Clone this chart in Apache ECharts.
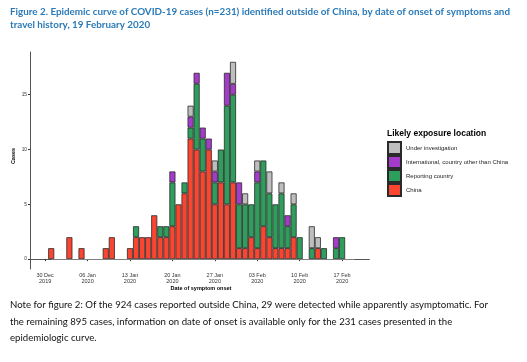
<!DOCTYPE html>
<html><head><meta charset="utf-8">
<script src="https://cdn.jsdelivr.net/npm/echarts@6/dist/echarts.min.js"></script>
<style>html,body{margin:0;padding:0;background:#fff}#c{width:527px;height:362px}</style>
</head><body><div id="c"></div>
<script>
// One category per day, 28 Dec 2019 .. 21 Feb 2020 (rows = weeks of 7 days)
const days = [
  '28 Dec','29 Dec','30 Dec','31 Dec','01 Jan','02 Jan','03 Jan',
  '04 Jan','05 Jan','06 Jan','07 Jan','08 Jan','09 Jan','10 Jan',
  '11 Jan','12 Jan','13 Jan','14 Jan','15 Jan','16 Jan','17 Jan',
  '18 Jan','19 Jan','20 Jan','21 Jan','22 Jan','23 Jan','24 Jan',
  '25 Jan','26 Jan','27 Jan','28 Jan','29 Jan','30 Jan','31 Jan',
  '01 Feb','02 Feb','03 Feb','04 Feb','05 Feb','06 Feb','07 Feb',
  '08 Feb','09 Feb','10 Feb','11 Feb','12 Feb','13 Feb','14 Feb',
  '15 Feb','16 Feb','17 Feb','18 Feb','19 Feb','20 Feb','21 Feb'
];
const china = [
  0,0,0,1,0,0,2,
  0,1,0,0,0,1,2,
  0,0,1,2,2,2,4,
  2,2,3,5,6,11,10,
  8,10,5,7,5,7,1,
  1,2,1,3,2,1,1,
  1,2,0,0,0,1,0,
  0,0,0,0,0,0,0
];
const reporting = [
  0,0,0,0,0,0,0,
  0,0,0,0,0,0,0,
  0,0,0,1,0,0,0,
  1,1,4,0,1,1,6,
  3,0,2,3,9,8,4,
  4,3,6,6,4,4,5,
  2,3,2,0,1,0,1,
  0,1,2,0,0,0,0
];
const international = [
  0,0,0,0,0,0,0,
  0,0,0,0,0,0,0,
  0,0,0,0,0,0,0,
  0,0,1,0,0,1,1,
  1,1,1,0,3,1,2,
  0,0,1,0,0,0,0,
  1,0,0,0,0,0,0,
  0,1,0,0,0,0,0
];
const underInvestigation = [
  0,0,0,0,0,0,0,
  0,0,0,0,0,0,0,
  0,0,0,0,0,0,0,
  0,0,0,0,0,1,0,
  0,0,1,0,0,2,0,
  1,0,1,0,2,0,1,
  0,1,0,0,2,1,0,
  0,0,0,0,0,0,0
];
const tickDays = ['30 Dec','06 Jan','13 Jan','20 Jan','27 Jan','03 Feb','10 Feb','17 Feb'];
const tickLabels = ['30 Dec\n2019','06 Jan\n2020','13 Jan\n2020','20 Jan\n2020','27 Jan\n2020','03 Feb\n2020','10 Feb\n2020','17 Feb\n2020'];
const yTicks = [0,5,10,15];
const baselineSpan = ['31 Dec','19 Feb'];
const seriesNames = ['China','Reporting country','International, country other than China','Under investigation'];
const colors = ['#FA4530','#2E9E5C','#A53BCB','#BEBEBE'];

const titleLines = ['Figure 2. Epidemic curve of COVID-19 cases (n=231) identified outside of China, by date of onset of symptoms and',
  'travel history, 19 February 2020'];
const noteLines = ['Note for figure 2: Of the 924 cases reported outside China, 29 were detected while apparently asymptomatic. For',
  'the remaining 895 cases, information on date of onset is available only for the 231 cases presented in the',
  'epidemiologic curve.'];

function fitScale(text, font, target) {
  const ctx = document.createElement('canvas').getContext('2d');
  ctx.font = font;
  return target / ctx.measureText(text).width;
}
const titleScale = fitScale(titleLines[0], 'bold 10px Lato', 500);
const noteScale = fitScale(noteLines[0], '10px Lato', 478);

const nz = a => a.map(v => v === 0 ? '-' : v);
const dataSets = [china, reporting, international, underInvestigation];

const chart = echarts.init(document.getElementById('c'), null, {renderer: 'canvas'});
const series = dataSets.map((d, i) => ({
  name: seriesNames[i],
  type: 'bar',
  stack: 'cases',
  data: nz(d),
  barCategoryGap: '0%',
  itemStyle: {color: colors[i], borderColor: '#2a2a2a', borderWidth: 0.8},
  emphasis: {disabled: true}
}));
series[0].markLine = {
  silent: true, symbol: 'none', label: {show: false},
  lineStyle: {color: '#808080', width: 1, type: 'solid'},
  data: [[{coord: [baselineSpan[0], 0]}, {coord: [baselineSpan[1], 0]}]]
};

const graphic = [];
titleLines.forEach((t, i) => graphic.push({
  type: 'text', x: 10, y: 12 + i * 12.6, scaleX: titleScale,
  style: {text: t, fontSize: 10, fontWeight: 'bold', fontFamily: 'Lato', fill: '#2A7AB8', textVerticalAlign: 'middle'}
}));
noteLines.forEach((t, i) => graphic.push({
  type: 'text', x: 10, y: 305 + i * 16.3, scaleX: noteScale,
  style: {text: t, fontSize: 10, fontFamily: 'Lato', fill: '#111', textVerticalAlign: 'middle'}
}));
graphic.push({
  type: 'text', x: 201, y: 288,
  style: {text: 'Date of symptom onset', fontSize: 5.5, fontWeight: 'bold', fontFamily: 'Liberation Sans', fill: '#000', textAlign: 'center', textVerticalAlign: 'middle'}
});
graphic.push({
  type: 'text', x: 13, y: 156, rotation: Math.PI / 2,
  style: {text: 'Cases', fontSize: 5.5, fontWeight: 'bold', fontFamily: 'Liberation Sans', fill: '#000', textAlign: 'center', textVerticalAlign: 'middle'}
});

chart.setOption({
  animation: false,
  backgroundColor: '#fff',
  title: [{
    text: 'Likely exposure location', left: 387, top: 129, padding: 0,
    textStyle: {fontSize: 8.5, fontWeight: 'bold', fontFamily: 'Liberation Sans', color: '#000'}
  }],
  legend: {
    orient: 'vertical', left: 387, top: 141, padding: 0,
    itemWidth: 13, itemHeight: 12, itemGap: 0, icon: 'rect',
    data: [seriesNames[3], seriesNames[2], seriesNames[1], seriesNames[0]],
    textStyle: {fontSize: 6, fontFamily: 'Liberation Sans', color: '#222'},
    selectedMode: false
  },
  grid: {left: 30, top: 52, width: 56 * 6.06, height: 217, containLabel: false},
  xAxis: {
    type: 'category', data: days, boundaryGap: true,
    axisLine: {lineStyle: {color: '#555', width: 1}},
    axisTick: {show: true, alignWithLabel: true, length: 2, interval: (i, v) => tickDays.includes(v), lineStyle: {color: '#333'}},
    axisLabel: {
      interval: (i, v) => tickDays.includes(v),
      formatter: v => tickLabels[tickDays.indexOf(v)],
      fontSize: 5.5, lineHeight: 6, color: '#333', fontFamily: 'Liberation Sans', margin: 3
    },
    splitLine: {show: false}
  },
  yAxis: {
    type: 'value', min: -0.9, max: 18.9,
    axisLine: {show: true, lineStyle: {color: '#555', width: 1}},
    axisTick: {show: true, length: 2, customValues: yTicks, lineStyle: {color: '#333'}},
    axisLabel: {customValues: yTicks, fontSize: 4.8, color: '#333', fontFamily: 'Liberation Sans', margin: 3},
    splitLine: {show: false}
  },
  graphic: graphic,
  series: series
});
</script></body></html>
